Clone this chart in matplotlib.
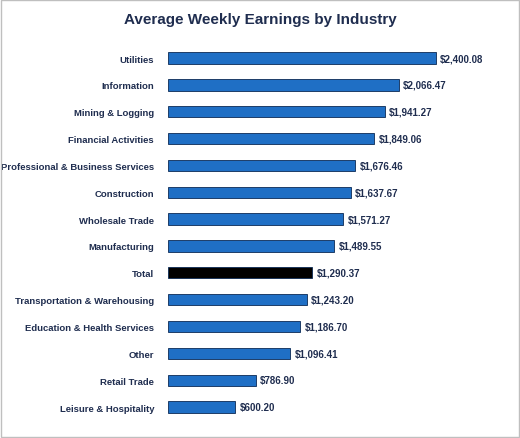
import matplotlib
matplotlib.use("Agg")
import matplotlib.pyplot as plt
from matplotlib.patches import Rectangle

plt.rcParams['font.family'] = ['Liberation Sans', 'DejaVu Sans']

industries = ["Utilities", "Information", "Mining & Logging", "Financial Activities",
              "Professional & Business Services", "Construction", "Wholesale Trade",
              "Manufacturing", "Total", "Transportation & Warehousing",
              "Education & Health Services", "Other", "Retail Trade", "Leisure & Hospitality"]
earnings = [2400.08, 2066.47, 1941.27, 1849.06, 1676.46, 1637.67, 1571.27,
            1489.55, 1290.37, 1243.20, 1186.70, 1096.41, 786.90, 600.20]

fig = plt.figure(figsize=(5.2, 4.39), dpi=100)
ax = fig.add_axes([0.323, 0.040, 0.644, 0.856])
txt = "#1f2d4f"
colors = ["black" if n == "Total" else "#1f6fc5" for n in industries]
y = list(range(len(industries)))
ax.barh(y, earnings, height=0.42, color=colors, edgecolor="#0b2a55", linewidth=0.6)
ax.set_xlim(0, 3000)
ax.set_ylim(len(industries) - 0.5, -0.5)
ax.set_yticks(y)
ax.set_yticklabels(industries, fontsize=6.8, fontweight="bold", color=txt)
ax.tick_params(axis="y", length=0, pad=10)
ax.set_xticks([])
for s in ax.spines.values():
    s.set_visible(False)
for yi, v in zip(y, earnings):
    ax.text(v + 40, yi, f"${v:,.2f}", va="center", ha="left", fontsize=7,
            fontweight="bold", color=txt)
fig.text(0.5, 0.955, "Average Weekly Earnings by Industry", ha="center", va="center",
         fontsize=11, fontweight="bold", color=txt)
fig.patches.append(Rectangle((0.002, 0.002), 0.996, 0.996, transform=fig.transFigure,
                             fill=False, edgecolor="#bfbfbf", linewidth=1))
fig.savefig("out.png", dpi=100)
